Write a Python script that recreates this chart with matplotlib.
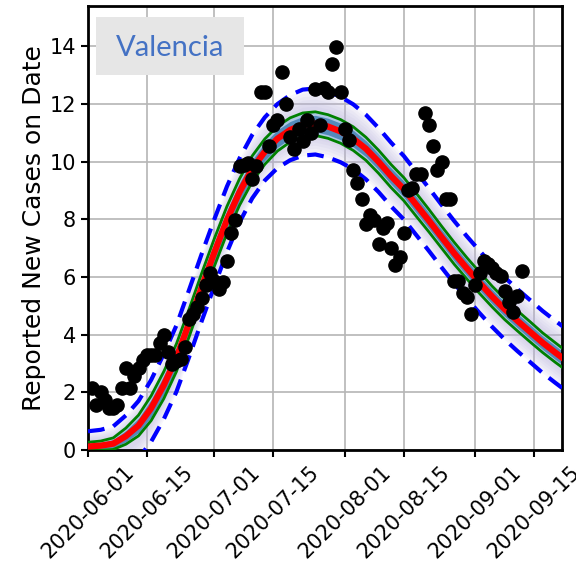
import numpy as np
import pandas as pd
import matplotlib
matplotlib.use("Agg")
import matplotlib.pyplot as plt
import matplotlib.dates as mdates
from matplotlib.patches import Rectangle

# Daily reported new cases (starting 2020-06-02)
obs_start = "2020-06-02"
obs_cases = [
    2.15, 1.56, 2.02, 1.73, 1.45, 1.45, 1.56, 2.14, 2.83, 2.14,
    2.56, 2.83, 3.12, 3.29, 3.29, 3.29, 3.70, 4.00, 3.41, 3.00,
    3.10, 3.14, 3.56, 4.56, 4.71, 4.97, 5.28, 5.72, 6.14, 5.86,
    5.57, 5.83, 6.56, 7.53, 7.99, 9.84, 9.90, 9.96, 9.41, 9.84,
    12.42, 12.42, 10.53, 11.26, 11.43, 13.10, 11.99, 10.86, 10.45, 11.15,
    10.71, 11.43, 10.99, 12.53, 11.26, 12.56, 12.42, 13.40, 13.97, 12.42,
    11.12, 10.74, 9.70, 9.26, 8.70, 7.83, 8.14, 7.99, 7.13, 7.70,
    7.86, 6.99, 6.43, 6.70, 7.54, 9.03, 9.10, 9.56, 9.56, 11.69,
    11.26, 10.54, 9.70, 9.99, 8.70, 8.70, 5.87, 5.87, 5.43, 5.29,
    4.71, 5.71, 6.14, 6.56, 6.44, 6.32, 6.14, 6.05, 5.50, 5.12,
    4.80, 5.35, 6.20,
]

# Model fit, sampled every 3 days from 2020-06-01
fit_start = "2020-06-01"
fit_step_days = 3
fit_median = [
    0.12, 0.15, 0.22, 0.48, 0.85, 1.45, 2.25, 3.20, 4.40, 5.65,
    6.85, 7.98, 8.95, 9.75, 10.35, 10.80, 11.10, 11.28, 11.32, 11.22,
    11.05, 10.80, 10.45, 10.00, 9.50, 9.05, 8.50, 7.95, 7.38, 6.82,
    6.30, 5.80, 5.32, 4.88, 4.48, 4.10, 3.72, 3.38, 3.05,
]
# half-width of the inner (green) interval
fit_inner = [
    0.15, 0.16, 0.20, 0.28, 0.36, 0.43, 0.47, 0.48, 0.48, 0.48,
    0.48, 0.47, 0.46, 0.45, 0.44, 0.43, 0.42, 0.41, 0.41, 0.41,
    0.41, 0.41, 0.40, 0.40, 0.40, 0.40, 0.40, 0.39, 0.38, 0.38,
    0.37, 0.37, 0.36, 0.36, 0.35, 0.35, 0.34, 0.34, 0.33,
]
# distance from the median to the outer (dashed) bounds
fit_outer_hi = [
    0.53, 0.55, 0.60, 0.72, 0.85, 0.98, 1.08, 1.12, 1.15, 1.15,
    1.15, 1.16, 1.17, 1.18, 1.19, 1.20, 1.21, 1.22, 1.22, 1.21,
    1.20, 1.19, 1.18, 1.17, 1.16, 1.15, 1.14, 1.13, 1.12, 1.12,
    1.11, 1.11, 1.10, 1.10, 1.10, 1.10, 1.10, 1.10, 1.10,
]
fit_outer_lo = [
    1.10, 1.10, 1.10, 1.12, 1.14, 1.16, 1.18, 1.18, 1.18, 1.18,
    1.17, 1.12, 1.05, 1.02, 1.00, 1.02, 1.05, 1.07, 1.07, 1.07,
    1.07, 1.06, 1.06, 1.05, 1.05, 1.05, 1.05, 1.05, 1.05, 1.05,
    1.05, 1.05, 1.05, 1.05, 1.05, 1.05, 1.05, 1.05, 1.05,
]

tick_dates = ["2020-06-01", "2020-06-15", "2020-07-01", "2020-07-15",
              "2020-08-01", "2020-08-15", "2020-09-01", "2020-09-15"]
region_name = "Valencia"

obs_dates = pd.date_range(obs_start, periods=len(obs_cases), freq="D")
fit_dates = pd.date_range(fit_start, periods=len(fit_median),
                          freq=f"{fit_step_days}D")
med = np.array(fit_median)
inner = np.array(fit_inner)
hi = np.array(fit_outer_hi)
lo = np.array(fit_outer_lo)

fig = plt.figure(figsize=(5.76, 5.63), dpi=100)
ax = fig.add_axes([88 / 576, 113 / 563, 474 / 576, 444 / 563])

# ensemble spread: layered translucent bands around the median
for f in [1.0, 0.9, 0.8, 0.7, 0.6, 0.5]:
    ax.fill_between(fit_dates, med - f * lo, med + f * hi,
                    color="#b9b2dd", alpha=0.11, lw=0, zorder=1)
ax.fill_between(fit_dates, med - inner, med + inner,
                color="#a9c6e2", alpha=0.9, lw=0, zorder=2)
ax.fill_between(fit_dates, med - 0.7 * inner, med + 0.7 * inner,
                color="#4a84b6", alpha=0.9, lw=0, zorder=2)

ax.plot(fit_dates, med + hi, color="blue", lw=3, ls=(0, (4, 2.2)), zorder=3)
ax.plot(fit_dates, med - lo, color="blue", lw=3, ls=(0, (4, 2.2)), zorder=3)
ax.plot(fit_dates, med + inner, color="green", lw=2, zorder=4)
ax.plot(fit_dates, med - inner, color="green", lw=2, zorder=4)
ax.plot(fit_dates, med, color="red", lw=4.5, zorder=5)

ax.plot(obs_dates, obs_cases, "o", color="black", ms=9.5, zorder=6)

ax.set_xlim(pd.Timestamp("2020-06-01"), pd.Timestamp("2020-09-21 14:00"))
ax.set_ylim(0, 15.4)
ax.set_xticks(pd.to_datetime(tick_dates))
ax.xaxis.set_major_formatter(mdates.DateFormatter("%Y-%m-%d"))
ax.set_yticks(np.arange(0, 15, 2))
ax.tick_params(axis="both", labelsize=15, width=1.5, length=5)
plt.setp(ax.get_xticklabels(), rotation=45)
ax.set_ylabel("Reported New Cases on Date", fontsize=18, labelpad=3)
ax.grid(True, color="#b5b5b5", lw=1.2, zorder=0)
ax.set_axisbelow(True)
for s in ax.spines.values():
    s.set_linewidth(2)

ax.add_patch(Rectangle((0.017, 0.845), 0.312, 0.13, transform=ax.transAxes,
                       facecolor="#e6e6e6", edgecolor="none", zorder=7))
ax.text(0.173, 0.905, region_name, transform=ax.transAxes, ha="center",
        va="center", color="#4472c4", fontsize=21, family="Lato", zorder=8)

fig.savefig("out.png", dpi=100)
